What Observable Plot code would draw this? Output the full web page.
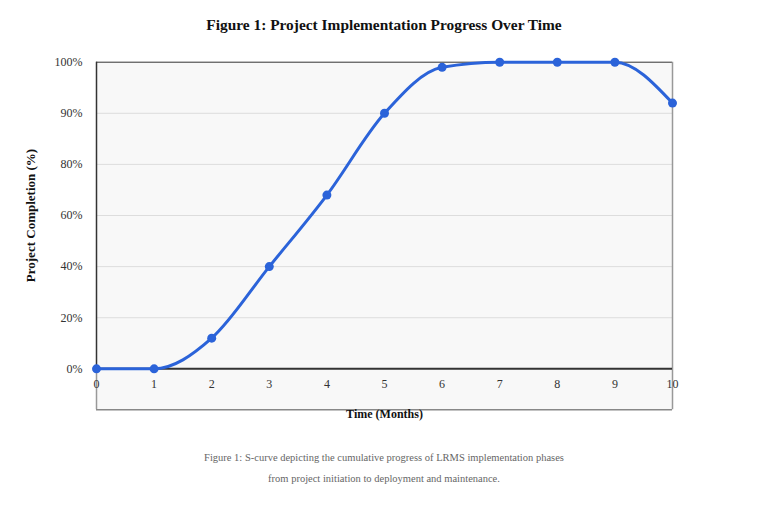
<!DOCTYPE html>
<html>
<head>
<meta charset="utf-8">
<script src="https://cdn.jsdelivr.net/npm/d3@7"></script>
<script src="https://cdn.jsdelivr.net/npm/@observablehq/plot@0.6"></script>
<style>
  html, body { margin: 0; padding: 0; background: #fff; }
  body { width: 768px; font-family: "Liberation Serif", "DejaVu Serif", serif; }
  #title { height: 44px; line-height: 50px; text-align: center; font-size: 15.4px; font-weight: bold; color: #111; }
  #chart svg { display: block; }
  #caption { padding-top: 12.5px; text-align: center; font-size: 10.5px; line-height: 21px; color: #666; }
</style>
</head>
<body>
<div id="title"></div>
<div id="chart"></div>
<div id="caption"></div>
<script>
const titleText = "Figure 1: Project Implementation Progress Over Time";
const captionLines = [
  "Figure 1: S-curve depicting the cumulative progress of LRMS implementation phases",
  "from project initiation to deployment and maintenance."
];
const xLabel = "Time (Months)";
const yLabel = "Project Completion (%)";

const months = [0, 1, 2, 3, 4, 5, 6, 7, 8, 9, 10];
const completion = [0, 0, 12, 40, 68, 90, 99, 100, 100, 100, 92];
const yTicks = [0, 20, 40, 60, 80, 90, 100];
const xTicks = [0, 1, 2, 3, 4, 5, 6, 7, 8, 9, 10];

const data = months.map((m, i) => ({month: m, value: completion[i]}));

// The axis places its (uneven) percentage ticks at equal spacing:
// map percent -> tick slot (piecewise linear).
const yPos = d3.scaleLinear().domain(yTicks).range(yTicks.map((_, i) => i));
const yMin = yPos(-16);

const W = 768, H = 390;
const mTop = 17.7, mBottom = 24.8, mLeft = 96, mRight = 96;

const lineColor = "#2b63d9";
const font = "Liberation Serif, DejaVu Serif, serif";

document.getElementById("title").textContent = titleText;
document.getElementById("caption").innerHTML = captionLines.map(s => `<div>${s}</div>`).join("");

const plot = Plot.plot({
  width: W,
  height: H,
  marginTop: mTop,
  marginBottom: mBottom,
  marginLeft: mLeft,
  marginRight: mRight,
  style: {fontFamily: font, fontSize: "12px", color: "#333", background: "transparent", overflow: "visible"},
  x: {domain: [0, 10], axis: null},
  y: {domain: [yMin, yPos(100)], axis: null},
  marks: [
    Plot.frame({fill: "#f8f8f8", stroke: "none"}),
    Plot.ruleY(yTicks.filter(d => d > 0 && d < 100), {y: d => yPos(d), stroke: "#dddddd", strokeWidth: 1}),
    // frame borders
    Plot.ruleY([100], {y: d => yPos(d), stroke: "#333", strokeWidth: 1}),
    Plot.ruleY([yMin], {stroke: "#888", strokeWidth: 1.5}),
    Plot.ruleX([10], {stroke: "#999", strokeWidth: 1.5}),
    Plot.ruleX([0], {y1: () => yPos(0), y2: () => yPos(100), stroke: "#333", strokeWidth: 1.5}),
    Plot.ruleX([0], {y1: () => yMin, y2: () => yPos(0), stroke: "#999", strokeWidth: 1.5}),
    Plot.ruleY([0], {y: d => yPos(d), stroke: "#333", strokeWidth: 2}),
    Plot.text(yTicks, {frameAnchor: "left", y: d => yPos(d), dx: -14, textAnchor: "end", text: d => d + "%", fontSize: 12, fill: "#333"}),
    Plot.text(xTicks, {x: d => d, y: () => yPos(0), dy: 15, text: d => String(d), fontSize: 12, fill: "#333"}),
    Plot.text([xLabel], {frameAnchor: "bottom", dy: 8, text: d => d, fontWeight: "bold", fontSize: 12, fill: "#111"}),
    Plot.text([yLabel], {frameAnchor: "left", y: () => yPos(60), dx: -66, rotate: -90, textAnchor: "middle", text: d => d, fontWeight: "bold", fontSize: 13, fill: "#111"}),
    Plot.line(data, {x: "month", y: d => yPos(d.value), curve: "monotone-x", stroke: lineColor, strokeWidth: 3}),
    Plot.dot(data, {x: "month", y: d => yPos(d.value), r: 4.5, fill: lineColor, stroke: "none"})
  ]
});
document.getElementById("chart").appendChild(plot);
</script>
</body>
</html>
